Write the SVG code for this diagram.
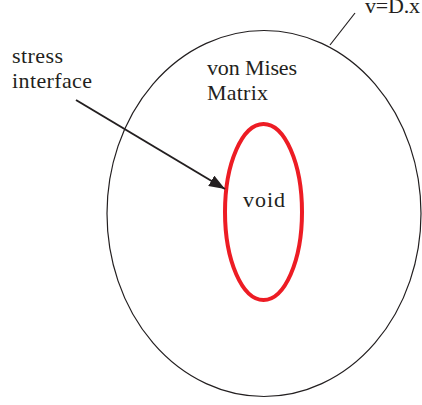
<svg xmlns="http://www.w3.org/2000/svg" width="422" height="405" viewBox="0 0 422 405">
<style>
text{font-family:"Liberation Serif","DejaVu Serif",serif;font-size:22px;fill:#231f20}
.ln{stroke:#231f20;fill:none}
</style>
<defs>
<marker id="ah" markerWidth="16" markerHeight="12" refX="16" refY="6" orient="auto" markerUnits="userSpaceOnUse">
<path d="M0,0 L16,6 L0,12 Z" fill="#231f20"/>
</marker>
</defs>
<rect width="422" height="405" fill="#fff"/>
<g id="matrix">
<ellipse cx="264" cy="213.5" rx="157" ry="183" class="ln" stroke-width="1.2"/>
<text x="207" y="75" textLength="90">von Mises</text>
<text x="207" y="99.5" textLength="61">Matrix</text>
</g>
<g id="void">
<ellipse cx="263.5" cy="212" rx="38.5" ry="88" fill="none" stroke="#ed1c24" stroke-width="4"/>
<text x="243" y="207" textLength="42">void</text>
</g>
<g id="stress-label">
<text x="12" y="63" textLength="51">stress</text>
<text x="12" y="88" textLength="80">interface</text>
</g>
<g id="v-label">
<text x="365" y="13" textLength="55">v=D.x</text>
</g>
<g id="connectors">
<line x1="76" y1="100" x2="225" y2="189" class="ln" stroke-width="2" marker-end="url(#ah)"/>
<line x1="355" y1="13" x2="330" y2="45" class="ln" stroke-width="1.2"/>
</g>
</svg>
